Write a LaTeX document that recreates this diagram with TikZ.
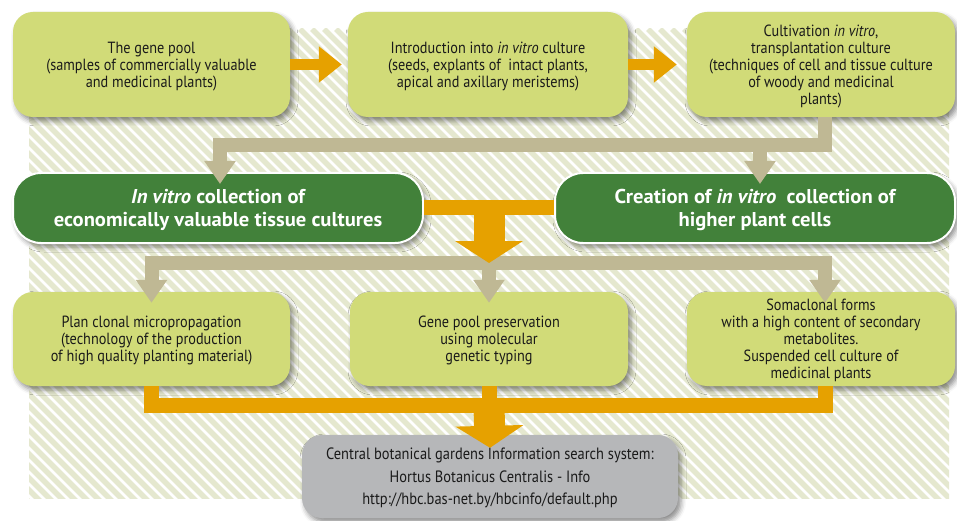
\documentclass[tikz,border=0pt]{standalone}
\usepackage{fontspec}
\setmainfont{PT Sans}[FakeStretch=0.88]
\newfontfamily\gfont{PT Sans}[FakeStretch=1.03]
\usetikzlibrary{arrows.meta,shadows.blur,calc}
\definecolor{lime}{HTML}{D1DB78}
\definecolor{dgreen}{HTML}{42813A}
\definecolor{orng}{HTML}{E6A100}
\definecolor{tanc}{HTML}{BFB894}
\definecolor{grayb}{HTML}{B6B7B9}
\definecolor{hatchc}{HTML}{E5E8CF}
\definecolor{txt}{HTML}{1A1A1A}
\tikzset{
  box/.style={rectangle, rounded corners=20pt, fill=lime, align=center, text=txt,
    font=\fontsize{16.2}{16.9}\selectfont, inner sep=0pt, text depth=-2pt,
    blur shadow={shadow xshift=3pt, shadow yshift=-4pt, shadow blur radius=5pt, shadow opacity=45}},
  gbox/.style={box, fill=dgreen, draw=white, line width=2pt, rounded corners=28pt, text=white,
    font=\gfont\fontsize{20}{23.5}\selectfont\bfseries, minimum height=70pt},
  graybox/.style={box, fill=grayb, font=\fontsize{16.4}{22.5}\selectfont, minimum width=376pt, minimum height=83pt},
  oline/.style={draw=orng, line width=15pt},
  oarrow/.style={draw=orng, line width=11pt, -{Triangle[width=35pt,length=23pt]}, orng},
  obig/.style={draw=orng, line width=31pt, -{Triangle[width=67pt,length=22pt]}, orng},
  tarrow/.style={draw=tanc, line width=14pt, -{Triangle[width=30pt,length=23pt]}, tanc},
}
\begin{document}
\begin{tikzpicture}[x=1pt,y=-1pt]
\useasboundingbox (0,0) rectangle (957,521);
% hatched background
\begin{scope}
\clip (29,29) rectangle (949,498);
\fill[white] (29,29) rectangle (949,498);
\foreach \i in {-480,-468,...,960} \draw[hatchc, line width=5.5pt] (\i,29) -- ++(480,480);
\end{scope}
% top row
\node[box, minimum width=277pt, minimum height=105pt] (b1) at (151.5,64.5)
  {The gene pool\\(samples of commercially valuable\\and medicinal plants)};
\node[box, minimum width=280pt, minimum height=105pt] (b2) at (488,64.5)
  {Introduction into \textit{in vitro} culture\\(seeds, explants of~ intact plants,\\apical and axillary meristems)};
\node[box, minimum width=268pt, minimum height=105pt] (b3) at (821,64.5)
  {Cultivation \textit{in vitro},\\transplantation culture\\(techniques of cell and tissue culture\\of woody and medicinal\\plants)};
% green row
\node[gbox, minimum width=410pt] (g1) at (218,208)
  {\textit{In vitro} collection of\\economically valuable tissue cultures};
\node[gbox, minimum width=400pt] (g2) at (755,208)
  {Creation of \textit{in vitro}~ collection of\\higher plant cells};
% bottom row
\node[box, minimum width=277pt, minimum height=94pt] (c1) at (151.5,339)
  {Plan clonal micropropagation\\(technology of the production\\of high quality planting material)};
\node[box, minimum width=278pt, minimum height=94pt] (c2) at (489,339)
  {Gene pool preservation\\using molecular\\genetic typing};
\node[box, minimum width=268pt, minimum height=94pt] (c3) at (821,339)
  {Somaclonal forms\\with a high content of secondary\\metabolites.\\Suspended cell culture of\\medicinal plants};
% gray
\node[graybox] (gr) at (490,476.5)
  {Central botanical gardens Information search system:\\Hortus Botanicus Centralis - Info\\http://hbc.bas-net.by/hbcinfo/default.php};
% connectors
\draw[oarrow, shorten >=6pt] (b1.east) -- (b2.west);
\draw[oarrow, shorten >=10pt] (b2.east) -- (b3.west);
\coordinate (tA) at (825,145);
\draw[tarrow] (b3.south -| tA) -- (tA) -| ($(g1.north)+(2,12)$);
\draw[tarrow] ($(tA -| g2)+(5,0)$) -- ($(g2.north)+(5,12)$);
\coordinate (tB) at (489,263);
\draw[tarrow] (tB) -| ($(c1.north)+(0,11)$);
\draw[tarrow] (tB) -| ($(c3.north)+(4,11)$);
\draw[tarrow] (tB) -- ($(c2.north)+(0,11)$);
\draw[oline] (g1.east) -- (g2.west);
\draw[obig] ($(g1.east)!0.5!(g2.west)$) -- (tB);
\coordinate (oB) at (489,405);
\draw[oline] (c1.south) |- (oB) -| ($(c3.south)+(4,0)$);
\draw[oline] (c2.south) -- (oB);
\draw[obig] (oB) -- ($(gr.north)+(0,13)$);
\end{tikzpicture}
\end{document}
